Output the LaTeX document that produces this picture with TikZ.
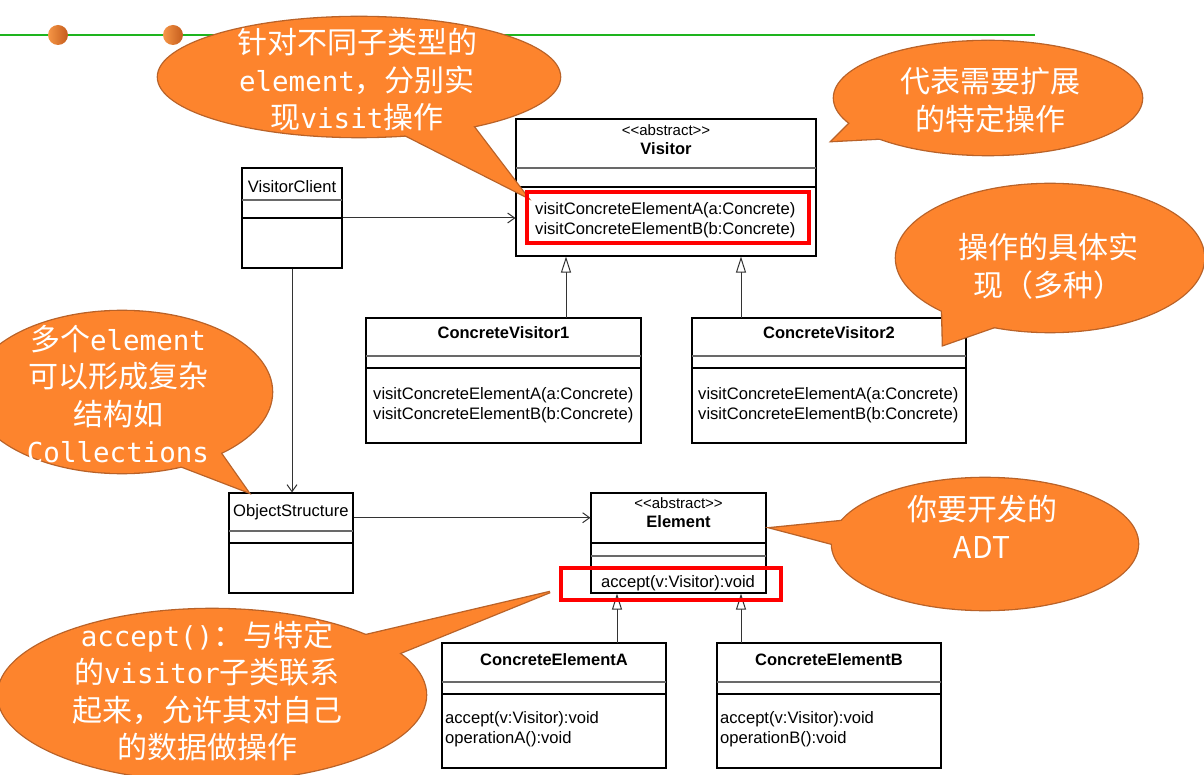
\documentclass[tikz,border=0pt]{standalone}
\usepackage{fontspec}
\setmainfont{Liberation Sans}
\newfontfamily\cjk{Noto Sans CJK SC}
\newfontfamily\monofam{DejaVu Sans Mono}
\newcommand\monotxt[1]{{\monofam\fontsize{27.5}{37.5}\selectfont #1}}
\newcommand\stereotxt{\textless\kern0pt\textless\kern0pt abstract\textgreater\kern0pt\textgreater}
\usetikzlibrary{arrows.meta,calc}
\definecolor{callfill}{RGB}{253,132,45}
\definecolor{callline}{RGB}{185,98,40}
\definecolor{greenline}{RGB}{30,180,30}
\definecolor{sepgray}{RGB}{105,105,105}
\definecolor{dotlight}{RGB}{246,150,70}
\definecolor{dotdark}{RGB}{196,92,28}
\tikzset{
  umlbox/.style={draw=black, line width=1.1pt, inner sep=0pt, fill=white},
  sepA/.style={draw=sepgray, line width=2pt},
  sepB/.style={draw=black, line width=1.1pt},
  title/.style={font=\fontsize{16.5}{19}\selectfont\bfseries, inner sep=0pt},
  stereo/.style={font=\fontsize{15}{18}\selectfont, inner sep=0pt},
  method/.style={font=\fontsize{16.6}{20}\selectfont, inner sep=0pt, anchor=west, align=left},
  assoc/.style={draw=black!80, line width=1pt, -{Straight Barb[length=7pt,width=10pt]}},
  gener/.style={draw=black!80, line width=1pt, -{Triangle[open,length=16pt,width=10pt,fill=white]}},
  redbox/.style={draw=red, line width=4pt},
  callstroke/.style={draw=callline, line width=2.6pt},
  callbody/.style={fill=callfill},
  calltext/.style={text=white, inner sep=0pt, align=center, font=\fontsize{30}{37.5}\selectfont\cjk},
}
\begin{document}
\begin{tikzpicture}[x=1pt,y=-1pt]
\useasboundingbox (0,0) rectangle (1204,775);
\fill[white] (0,0) rectangle (1204,775);

% header decoration
\draw[greenline, line width=1.5pt] (0,35) -- (1035,35);
\shade[left color=dotlight, right color=dotdark] (58,35) circle (10pt);
\shade[left color=dotlight, right color=dotdark] (173,35) circle (10pt);

% ---------- UML boxes ----------
% Visitor
\node[umlbox, minimum width=300pt, minimum height=137pt] (visitor) at (666,187.5) {};
\draw[sepA] (516,168) -- (816,168);
\draw[sepB] (516,187) -- (816,187);
\node[stereo] (visitorst) at (666,130) {\stereotxt};
\node[title] (visitorname) at (666,149) {Visitor};
\node[method] (visitorm) at (535,220) {visitConcreteElementA(a:Concrete)\\visitConcreteElementB(b:Concrete)};

% VisitorClient
\node[umlbox, minimum width=100pt, minimum height=100pt] (vclient) at (292,218) {};
\draw[sepA] (242,200) -- (342,200);
\draw[sepB] (242,218) -- (342,218);
\node[font=\fontsize{16.6}{20}\selectfont, inner sep=0pt] (vclientname) at (292,187) {VisitorClient};

% ConcreteVisitor1
\node[umlbox, minimum width=275pt, minimum height=125pt] (cv1) at (503.5,380.5) {};
\draw[sepA] (366,356) -- (641,356);
\draw[sepB] (366,368) -- (641,368);
\node[title] (cv1name) at (503.5,333) {ConcreteVisitor1};
\node[method] (cv1m) at (373,405) {visitConcreteElementA(a:Concrete)\\visitConcreteElementB(b:Concrete)};

% ConcreteVisitor2
\node[umlbox, minimum width=274pt, minimum height=125pt] (cv2) at (829,380.5) {};
\draw[sepA] (692,356) -- (966,356);
\draw[sepB] (692,368) -- (966,368);
\node[title] (cv2name) at (829,333) {ConcreteVisitor2};
\node[method] (cv2m) at (698,405) {visitConcreteElementA(a:Concrete)\\visitConcreteElementB(b:Concrete)};

% ObjectStructure
\node[umlbox, minimum width=124pt, minimum height=100pt] (os) at (291,543) {};
\draw[sepA] (229,531) -- (353,531);
\draw[sepB] (229,543) -- (353,543);
\node[font=\fontsize{16.6}{20}\selectfont, inner sep=0pt, anchor=west] (osname) at (233,512) {ObjectStructure};

% Element
\node[umlbox, minimum width=175pt, minimum height=100pt] (element) at (678.5,543) {};
\draw[sepB] (591,543) -- (766,543);
\draw[sepA] (591,556) -- (766,556);
\node[stereo] (elementst) at (678.5,503) {\stereotxt};
\node[title] (elementname) at (678.5,522) {Element};
\node[method] (elementm) at (601,583) {accept(v:Visitor):void};

% ConcreteElementA
\node[umlbox, minimum width=224pt, minimum height=125pt] (cea) at (554,705.5) {};
\draw[sepA] (442,682) -- (666,682);
\draw[sepB] (442,694) -- (666,694);
\node[title] (ceaname) at (554,660) {ConcreteElementA};
\node[method] (ceam) at (445,729) {accept(v:Visitor):void\\operationA():void};

% ConcreteElementB
\node[umlbox, minimum width=224pt, minimum height=125pt] (ceb) at (829,705.5) {};
\draw[sepA] (717,682) -- (941,682);
\draw[sepB] (717,694) -- (941,694);
\node[title] (cebname) at (829,660) {ConcreteElementB};
\node[method] (cebm) at (720,729) {accept(v:Visitor):void\\operationB():void};

% ---------- connectors ----------
\draw[assoc] (vclient.east) -- (vclient.east -| visitor.west);
\draw[assoc] (vclient.south) -- (vclient.south |- os.north);
\coordinate (osout) at ($(os.north east)!0.25!(os.south east)$);
\draw[assoc] (osout) -- (osout -| element.west);
\coordinate (g1) at (566,318);
\coordinate (g2) at (741,318);
\coordinate (g3) at (617,643);
\coordinate (g4) at (741,643);
\draw[gener] (g1) -- (g1 |- visitor.south);
\draw[gener] (g2) -- (g2 |- visitor.south);
\draw[gener] (g3) -- (g3 |- element.south);
\draw[gener] (g4) -- (g4 |- element.south);

% ---------- callouts ----------
% C1
\path[callstroke] (359,77) ellipse [x radius=201pt, y radius=60pt];
\path[callstroke] (395,130) -- (527,197) -- (470,122) -- cycle;
\path[callbody] (359,77) ellipse [x radius=201pt, y radius=60pt];
\path[callbody] (395,130) -- (527,197) -- (470,122) -- cycle;
\node[calltext] (t1) at (357,80) {针对不同子类型的\\\monotxt{element}，分别实\\现\monotxt{visit}操作};

% C2
\path[callstroke] (988,98) ellipse [x radius=154pt, y radius=57pt];
\path[callstroke] (855,118) -- (832,141) -- (890,138) -- cycle;
\path[callbody] (988,98) ellipse [x radius=154pt, y radius=57pt];
\path[callbody] (855,118) -- (832,141) -- (890,138) -- cycle;
\node[calltext] (t2) at (990,100) {代表需要扩展\\的特定操作};

% C3
\path[callstroke] (1050,258) ellipse [x radius=154pt, y radius=74pt];
\path[callstroke] (942,305) -- (943,345) -- (1000,325) -- cycle;
\path[callbody] (1050,258) ellipse [x radius=154pt, y radius=74pt];
\path[callbody] (942,305) -- (943,345) -- (1000,325) -- cycle;
\node[calltext] (t3) at (1048,266) {操作的具体实\\现（多种）};

% C4
\path[callstroke] (122,392) ellipse [x radius=150pt, y radius=81pt];
\path[callstroke] (215,445) -- (248,492) -- (170,462) -- cycle;
\path[callbody] (122,392) ellipse [x radius=150pt, y radius=81pt];
\path[callbody] (215,445) -- (248,492) -- (170,462) -- cycle;
\node[calltext] (t4) at (118,394) {多个\monotxt{element}\\可以形成复杂\\结构如\\\monotxt{Collections}};

% C5
\path[callstroke] (985,544) ellipse [x radius=153pt, y radius=66pt];
\path[callstroke] (852,520) -- (772,528) -- (848,548) -- cycle;
\path[callbody] (985,544) ellipse [x radius=153pt, y radius=66pt];
\path[callbody] (852,520) -- (772,528) -- (848,548) -- cycle;
\node[calltext] (t5) at (982,527) {你要开发的\\ADT};

% C6
\path[callstroke] (212,695) ellipse [x radius=214pt, y radius=86pt];
\path[callstroke] (345,640) -- (550,592) -- (395,655) -- cycle;
\path[callbody] (212,695) ellipse [x radius=214pt, y radius=86pt];
\path[callbody] (345,640) -- (550,592) -- (395,655) -- cycle;
\node[calltext] (t6) at (207,691) {\monotxt{accept()}：与特定\\的\monotxt{visitor}子类联系\\起来，允许其对自己\\的数据做操作};

% ---------- red highlight boxes ----------
\draw[redbox] (527,192) rectangle (809,243);
\draw[redbox] (561,568) rectangle (781,600);
\end{tikzpicture}
\end{document}
